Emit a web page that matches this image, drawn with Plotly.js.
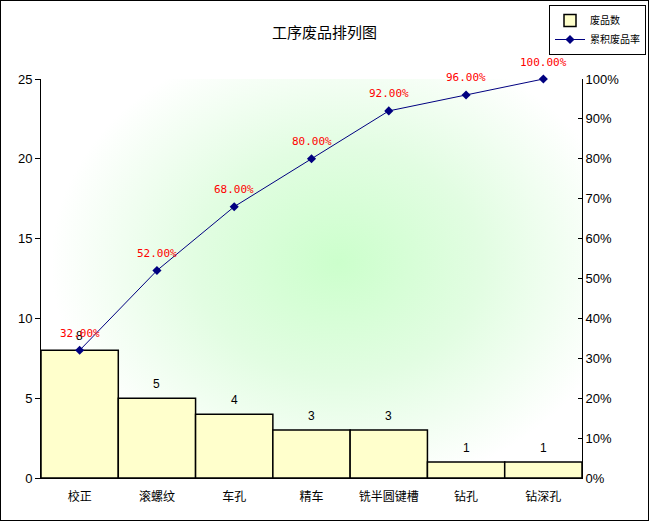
<!DOCTYPE html>
<html>
<head>
<meta charset="utf-8">
<script src="https://cdn.plot.ly/plotly-3.0.1.min.js"></script>
<style>
  body { margin: 0; background: #fff; }
  #chart { position: absolute; left: 0; top: 0; width: 647px; height: 519px; border: 1px solid #000; }
</style>
</head>
<body>
<div id="chart"></div>
<script>
const categories = ['校正', '滚螺纹', '车孔', '精车', '铣半圆键槽', '钻孔', '钻深孔'];
const defectCounts = [8, 5, 4, 3, 3, 1, 1];
const cumulativeRates = [0.32, 0.52, 0.68, 0.80, 0.92, 0.96, 1.00];
const leftTicks = [0, 5, 10, 15, 20, 25];
const rightTicks = [0, 0.1, 0.2, 0.3, 0.4, 0.5, 0.6, 0.7, 0.8, 0.9, 1.0];

// plot area box (inside the 1px frame)
const margin = { l: 40, r: 66, t: 78, b: 42, autoexpand: false };
const plotW = 647 - margin.l - margin.r;
const plotH = 519 - margin.t - margin.b;

// green radial wash behind the plot area
const makeBackground = () => {
  const c = document.createElement('canvas');
  c.width = plotW;
  c.height = plotH;
  const ctx = c.getContext('2d');
  ctx.fillStyle = '#fff';
  ctx.fillRect(0, 0, plotW, plotH);
  ctx.save();
  ctx.translate(plotW * 0.55, plotH * 0.46);
  ctx.scale(1.25, 1);
  const g = ctx.createRadialGradient(0, 0, 0, 0, 0, 230);
  g.addColorStop(0, '#ccffcc');
  g.addColorStop(0.5, '#e2fde2');
  g.addColorStop(1, '#ffffff');
  ctx.fillStyle = g;
  ctx.fillRect(-plotW, -plotH, plotW * 2, plotH * 2);
  ctx.restore();
  return c.toDataURL();
};

const barTrace = {
  type: 'bar',
  name: '废品数',
  x: categories,
  y: defectCounts,
  marker: { color: '#ffffcc', line: { color: '#000', width: 1.5 } },
};

const lineTrace = {
  type: 'scatter',
  mode: 'lines+markers',
  name: '累积废品率',
  x: categories,
  y: cumulativeRates,
  yaxis: 'y2',
  cliponaxis: false,
  line: { color: '#000080', width: 1 },
  marker: { symbol: 'diamond', size: 7, color: '#000080' },
};

// black count labels above the bars
const countLabels = categories.map((c, i) => ({
  x: c,
  y: defectCounts[i],
  xref: 'x',
  yref: 'y',
  text: String(defectCounts[i]),
  showarrow: false,
  yshift: 14,
  font: { family: 'Liberation Sans, Arial', size: 12, color: '#000' },
}));

// red percentage labels above the line points
const rateLabels = categories.map((c, i) => ({
  x: c,
  y: cumulativeRates[i],
  xref: 'x',
  yref: 'y2',
  text: (cumulativeRates[i] * 100).toFixed(2) + '%',
  showarrow: false,
  yshift: 17,
  font: { family: 'DejaVu Sans Mono, monospace', size: 11, color: '#ff0000' },
}));

const layout = {
  width: 647,
  height: 519,
  margin: margin,
  paper_bgcolor: '#fff',
  plot_bgcolor: 'rgba(0,0,0,0)',
  font: { family: 'Liberation Sans, Arial', size: 12, color: '#000' },
  title: {
    text: '工序废品排列图',
    font: { family: 'Noto Sans CJK SC', size: 15, color: '#000' },
    x: 0.5,
    xref: 'container',
    y: 1 - 32 / 519,
    yref: 'container',
    yanchor: 'middle',
  },
  bargap: 0,
  showlegend: true,
  legend: {
    xref: 'container', yref: 'container',
    x: 548 / 647, y: 1 - 4 / 519,
    xanchor: 'left', yanchor: 'top',
    bordercolor: '#000', borderwidth: 1, bgcolor: '#fff',
    font: { family: 'Noto Sans CJK SC', size: 10, color: '#000' },
    tracegroupgap: 0,
    itemwidth: 30,
  },
  xaxis: {
    type: 'category',
    range: [-0.5, 6.5],
    showgrid: false,
    showline: true, linecolor: '#000', linewidth: 1,
    ticks: '',
    ticklabelstandoff: 8,
    tickfont: { family: 'Noto Sans CJK SC', size: 12, color: '#000' },
    fixedrange: true,
  },
  yaxis: {
    range: [0, 25],
    tickvals: leftTicks,
    showgrid: false, zeroline: false,
    showline: true, linecolor: '#000', linewidth: 1,
    ticks: 'outside', ticklen: 5, tickcolor: '#000',
    tickfont: { size: 13 },
    fixedrange: true,
  },
  yaxis2: {
    overlaying: 'y',
    side: 'right',
    range: [0, 1],
    tickvals: rightTicks,
    tickformat: '.0%',
    showgrid: false, zeroline: false,
    showline: true, linecolor: '#000', linewidth: 1,
    ticks: 'inside', ticklen: 4, tickcolor: '#000',
    tickfont: { size: 13 },
    fixedrange: true,
  },
  annotations: countLabels.concat(rateLabels),
  images: [{
    source: makeBackground(),
    xref: 'paper', yref: 'paper',
    x: 0, y: 1, sizex: 1, sizey: 1,
    xanchor: 'left', yanchor: 'top',
    sizing: 'stretch',
    layer: 'below',
  }],
};

Plotly.newPlot('chart', [barTrace, lineTrace], layout, { displayModeBar: false, staticPlot: true });
</script>
</body>
</html>
